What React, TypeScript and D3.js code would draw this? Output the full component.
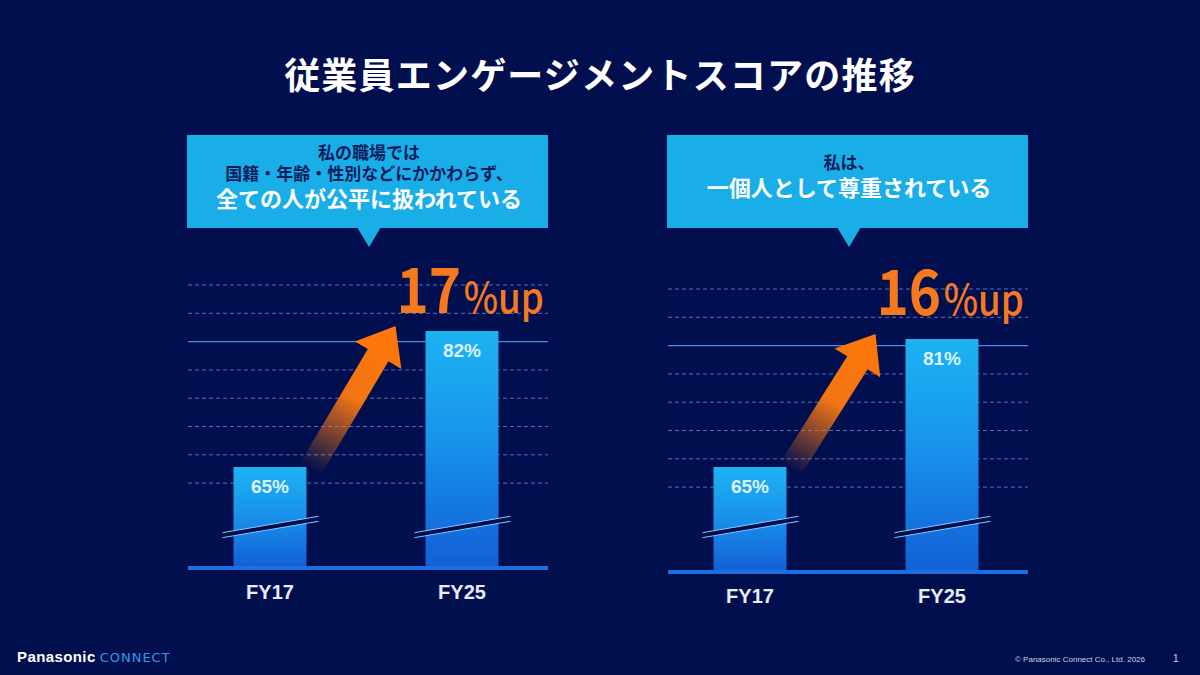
import React, { useEffect, useRef } from "react";
import * as d3 from "d3";

// Scores by survey year
const years = ["FY17", "FY25"];
const fairnessScores = [65, 82];
const respectScores = [65, 81];

// Callout headings for each panel
const fairnessLines = ["私の職場では", "国籍・年齢・性別などにかかわらず、", "全ての人が公平に扱われている"];
const respectLines = ["私は、", "一個人として尊重されている"];

const title = "従業員エンゲージメントスコアの推移";
const axisBreak = 57.5; // value where the bars are cut by the break mark

const W = 1200;
const H = 675;
const BG = "#020f4e";
const JP = "'Noto Sans CJK JP', 'Noto Sans', sans-serif";
const LAT = "'Liberation Sans', Arial, sans-serif";

const App = () => {
  const svgRef = useRef<SVGSVGElement>(null);

  useEffect(() => {
    const svg = d3.select(svgRef.current);
    svg.selectAll("*").remove();

    svg.append("rect").attr("width", W).attr("height", H).attr("fill", BG);

    const defs = svg.append("defs");
    const barGrad = defs
      .append("linearGradient")
      .attr("id", "barGrad")
      .attr("x1", 0)
      .attr("y1", 0)
      .attr("x2", 0)
      .attr("y2", 1);
    barGrad.append("stop").attr("offset", "0%").attr("stop-color", "#1cb3f2");
    barGrad.append("stop").attr("offset", "45%").attr("stop-color", "#1994ec");
    barGrad.append("stop").attr("offset", "100%").attr("stop-color", "#125fd6");

    // Title
    svg
      .append("text")
      .attr("x", W / 2)
      .attr("y", 89)
      .attr("text-anchor", "middle")
      .attr("font-family", JP)
      .attr("font-weight", 700)
      .attr("font-size", 36)
      .attr("letter-spacing", 1.2)
      .attr("fill", "#ffffff")
      .text(title);

    const panels = [
      { scores: fairnessScores, lines: fairnessLines },
      { scores: respectScores, lines: respectLines },
    ];

    const y = d3.scaleLinear().domain([50, 90]).range([587, 267]);
    const gridStep = 28.3;

    panels.forEach((p, i) => {
      const px = 188 + i * 480;
      const baseY = 568 + i * 4;
      const pw = 360;
      const g = svg.append("g");

      const x = d3
        .scaleBand()
        .domain(years)
        .range([px - 14, px + 370])
        .paddingInner(0.62)
        .paddingOuter(0.31);

      // Callout box with pointer
      const boxTop = 135;
      const boxBottom = 228;
      const cx = px + 181;
      g.append("rect")
        .attr("x", px - 1)
        .attr("y", boxTop)
        .attr("width", pw + 1)
        .attr("height", boxBottom - boxTop)
        .attr("fill", "#1aaee8");
      g.append("path")
        .attr("d", `M${cx - 12},${boxBottom - 1}L${cx + 12},${boxBottom - 1}L${cx},${boxBottom + 19}Z`)
        .attr("fill", "#1aaee8");

      // Heading lines: dark lead-in, white statement on the last line
      const n = p.lines.length;
      const span = (n - 2) * 21 + 27;
      const heading = g
        .append("text")
        .attr("text-anchor", "middle")
        .attr("font-family", JP)
        .attr("font-weight", 700);
      let ly = 182.5 - span / 2;
      p.lines.forEach((line, k) => {
        const last = k === n - 1;
        heading
          .append("tspan")
          .attr("x", cx)
          .attr("y", ly)
          .attr("font-size", last ? 22 : 17)
          .attr("fill", last ? "#ffffff" : "#0c1d5e")
          .text(line);
        ly += k === n - 2 ? 27 : 21;
      });

      // Gridlines
      d3.range(3, 11).forEach((k) => {
        const gy = baseY - gridStep * k;
        const solid = k === 8;
        g.append("line")
          .attr("x1", px)
          .attr("x2", px + pw)
          .attr("y1", gy)
          .attr("y2", gy)
          .attr("stroke", solid ? "#4b8ee8" : "#4a74c4")
          .attr("stroke-width", solid ? 1.2 : 1)
          .attr("stroke-dasharray", solid ? null : "4,3");
      });

      // Bars
      g.selectAll(".bar")
        .data(p.scores)
        .enter()
        .append("rect")
        .attr("x", (d, j) => x(years[j])!)
        .attr("y", (d) => y(d))
        .attr("width", x.bandwidth())
        .attr("height", (d) => baseY - y(d))
        .attr("fill", "url(#barGrad)");

      // Axis break marks
      const slope = 0.17;
      years.forEach((yr) => {
        const x1 = x(yr)! - 11;
        const x2 = x(yr)! + x.bandwidth() + 12;
        const mid = (x1 + x2) / 2;
        const by = y(axisBreak);
        const f = (xx: number) => by - (xx - mid) * slope;
        g.append("path")
          .attr("d", `M${x1},${f(x1) - 2.5}L${x2},${f(x2) - 2.5}L${x2},${f(x2) + 2.5}L${x1},${f(x1) + 2.5}Z`)
          .attr("fill", BG);
        [-2.5, 2.5].forEach((o) => {
          g.append("line")
            .attr("x1", x1)
            .attr("x2", x2)
            .attr("y1", f(x1) + o)
            .attr("y2", f(x2) + o)
            .attr("stroke", "#8cc6ff")
            .attr("stroke-width", 1);
        });
      });

      // Baseline
      g.append("rect")
        .attr("x", px)
        .attr("y", baseY - 2)
        .attr("width", pw)
        .attr("height", 4)
        .attr("fill", "#1d6fe0");

      // Value labels
      g.selectAll(".val")
        .data(p.scores)
        .enter()
        .append("text")
        .attr("x", (d, j) => x(years[j])! + x.bandwidth() / 2)
        .attr("y", (d) => y(d) + 26)
        .attr("text-anchor", "middle")
        .attr("font-family", LAT)
        .attr("font-weight", 700)
        .attr("font-size", 19)
        .attr("fill", "#def2ff")
        .text((d) => `${d}%`);

      // Category labels
      years.forEach((yr) => {
        g.append("text")
          .attr("x", x(yr)! + x.bandwidth() / 2)
          .attr("y", baseY + 31)
          .attr("text-anchor", "middle")
          .attr("font-family", LAT)
          .attr("font-weight", 700)
          .attr("font-size", 20)
          .attr("fill", "#e8edf7")
          .text(yr);
      });

      // Rising arrow from first bar to second
      const [v1, v2] = p.scores;
      const T: [number, number] = [x(years[0])! + x.bandwidth() + 4, y(v1) + 2];
      const P: [number, number] = [x(years[1])! - 30, y(v2) - 5];
      const dx = P[0] - T[0];
      const dy = P[1] - T[1];
      const len = Math.hypot(dx, dy);
      const u = [dx / len, dy / len];
      const nrm = [-u[1], u[0]];
      const headLen = 34;
      const headW = 54;
      const shaftW = 24;
      const B = [P[0] - u[0] * headLen, P[1] - u[1] * headLen];
      const pt = (base: number[], w: number) => [base[0] + nrm[0] * w, base[1] + nrm[1] * w];
      const pts = [
        pt(T, shaftW / 2),
        pt(B, shaftW / 2),
        pt(B, headW / 2),
        P,
        pt(B, -headW / 2),
        pt(B, -shaftW / 2),
        pt(T, -shaftW / 2),
      ];
      const gradId = `arrowGrad${i}`;
      const ag = defs
        .append("linearGradient")
        .attr("id", gradId)
        .attr("gradientUnits", "userSpaceOnUse")
        .attr("x1", T[0])
        .attr("y1", T[1])
        .attr("x2", P[0])
        .attr("y2", P[1]);
      ag.append("stop").attr("offset", "0%").attr("stop-color", "#ff7a10").attr("stop-opacity", 0);
      ag.append("stop").attr("offset", "50%").attr("stop-color", "#ff7a10").attr("stop-opacity", 0.95);
      ag.append("stop").attr("offset", "100%").attr("stop-color", "#ff7708").attr("stop-opacity", 1);
      g.append("path")
        .attr("d", d3.line()(pts as [number, number][]) + "Z")
        .attr("fill", `url(#${gradId})`);

      // Increase label, slightly condensed
      const ux = x(years[1])! - 29;
      const uy = 313 + i * 2;
      const up = g
        .append("text")
        .attr("transform", `translate(${ux},${uy}) scale(0.87,1)`)
        .attr("font-family", JP)
        .attr("font-weight", 700)
        .attr("fill", "#f7791f");
      up.append("tspan").attr("font-size", 63).text(`${v2 - v1}`);
      up.append("tspan").attr("font-size", 42).attr("font-weight", 500).attr("dx", 3).text("%up");
    });

    // Footer
    const brand = svg
      .append("text")
      .attr("x", 17)
      .attr("y", 662)
      .attr("font-size", 15);
    brand
      .append("tspan")
      .attr("font-family", LAT)
      .attr("font-weight", 700)
      .attr("letter-spacing", 0.4)
      .attr("fill", "#ffffff")
      .text("Panasonic");
    brand
      .append("tspan")
      .attr("dx", 4)
      .attr("font-family", "'DejaVu Sans', sans-serif")
      .attr("font-size", 13)
      .attr("letter-spacing", 1)
      .attr("fill", "#2f9be9")
      .text("CONNECT");

    svg
      .append("text")
      .attr("x", 1015)
      .attr("y", 662)
      .attr("font-family", LAT)
      .attr("font-size", 8)
      .attr("fill", "#c9d2e8")
      .text("© Panasonic Connect Co., Ltd.  2026");
    svg
      .append("text")
      .attr("x", 1173)
      .attr("y", 662)
      .attr("font-family", LAT)
      .attr("font-size", 10)
      .attr("fill", "#c9d2e8")
      .text("1");
  }, []);

  return (
    <svg
      ref={svgRef}
      width={W}
      height={H}
      style={{ position: "absolute", left: 0, top: 0, display: "block" }}
    ></svg>
  );
};

export default App;
